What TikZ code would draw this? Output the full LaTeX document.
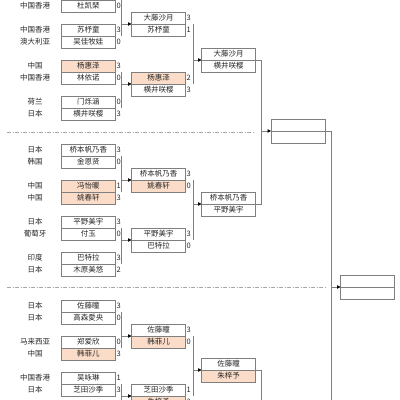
\documentclass[tikz,border=0pt]{standalone}
\usepackage{fontspec}
\setmainfont{Noto Sans CJK SC}
\usetikzlibrary{arrows.meta,calc}
\definecolor{lg}{HTML}{7F7F7F}
\definecolor{sepc}{HTML}{A6A6A6}
\definecolor{peach}{HTML}{FBDCC8}
\definecolor{txt}{HTML}{262626}
\tikzset{
 cell/.style={draw=lg,line width=0.7pt,minimum width=54pt,minimum height=12pt,inner sep=0pt,outer sep=0pt,font=\fontsize{7.5}{8}\selectfont,text=txt},
 winc/.style={cell,fill=peach},
 ctry/.style={inner sep=0pt,font=\fontsize{7.5}{8}\selectfont,text=txt},
 scr/.style={anchor=west,inner sep=0pt,font=\fontsize{7.5}{8}\selectfont,text=txt},
 conn/.style={draw=lg,line width=0.7pt},
 arr/.style={conn,-{Triangle[length=3.5pt,width=3.5pt,color=black]}},
 sepline/.style={draw=sepc,line width=0.7pt,dash pattern=on 4pt off 1.5pt on 1pt off 1.5pt}
}
\newcommand\mkpl[5]{\node[#2] (#1) at #3 {#4};\node[scr] (#1s) at ([xshift=1pt]#1.east) {#5};}
\newcommand\mkct[3]{\node[ctry] (#1) at (35,#2) {#3};}
\begin{document}
\begin{tikzpicture}[x=1pt,y=-1pt]
\useasboundingbox (0,0) rectangle (400,400);
\clip (0,0) rectangle (400,400);
% ---------- group 1, round 1
\mkct{c1}{6}{中国香港}\mkpl{a1}{cell}{(88.5,6)}{杜凯琹}{0}
\mkct{c2}{30}{中国香港}\mkpl{a2}{cell}{(88.5,30)}{苏杼童}{3}
\mkct{c3}{42}{澳大利亚}\mkpl{a3}{cell}{(88.5,42)}{吴佳牧娃}{0}
\mkct{c4}{66}{中国}\mkpl{a4}{winc}{(88.5,66)}{杨惠泽}{3}
\mkct{c5}{78}{中国香港}\mkpl{a5}{cell}{(88.5,78)}{林依诺}{0}
\mkct{c6}{102}{荷兰}\mkpl{a6}{cell}{(88.5,102)}{门烁涵}{0}
\mkct{c7}{114}{日本}\mkpl{a7}{cell}{(88.5,114)}{横井咲樱}{3}
% ---------- group 2, round 1
\mkct{c8}{150}{日本}\mkpl{a8}{cell}{(88.5,150)}{桥本帆乃香}{3}
\mkct{c9}{162}{韩国}\mkpl{a9}{cell}{(88.5,162)}{金恩贤}{0}
\mkct{c10}{186}{中国}\mkpl{a10}{winc}{(88.5,186)}{冯怡暖}{1}
\mkct{c11}{198}{中国}\mkpl{a11}{winc}{(88.5,198)}{姚春轩}{3}
\mkct{c12}{222}{日本}\mkpl{a12}{cell}{(88.5,222)}{平野美宇}{3}
\mkct{c13}{234}{葡萄牙}\mkpl{a13}{cell}{(88.5,234)}{付玉}{0}
\mkct{c14}{258}{印度}\mkpl{a14}{cell}{(88.5,258)}{巴特拉}{3}
\mkct{c15}{270}{日本}\mkpl{a15}{cell}{(88.5,270)}{木原美悠}{2}
% ---------- group 3, round 1
\mkct{c16}{306}{日本}\mkpl{a16}{cell}{(88.5,306)}{佐藤瞳}{3}
\mkct{c17}{318}{日本}\mkpl{a17}{cell}{(88.5,318)}{高森愛央}{0}
\mkct{c18}{342}{马来西亚}\mkpl{a18}{cell}{(88.5,342)}{郑爱欣}{0}
\mkct{c19}{354}{中国}\mkpl{a19}{winc}{(88.5,354)}{韩菲儿}{3}
\mkct{c20}{378}{中国香港}\mkpl{a20}{cell}{(88.5,378)}{吴咏琳}{1}
\mkct{c21}{390}{日本}\mkpl{a21}{cell}{(88.5,390)}{芝田沙季}{3}
% ---------- round 2
\mkpl{b1}{cell}{(158.5,18)}{大藤沙月}{3}
\mkpl{b2}{cell}{(158.5,30)}{苏杼童}{1}
\mkpl{b3}{winc}{(158.5,78)}{杨惠泽}{2}
\mkpl{b4}{cell}{(158.5,90)}{横井咲樱}{3}
\mkpl{b5}{cell}{(158.5,174)}{桥本帆乃香}{3}
\mkpl{b6}{winc}{(158.5,186)}{姚春轩}{0}
\mkpl{b7}{cell}{(158.5,234)}{平野美宇}{3}
\mkpl{b8}{cell}{(158.5,246)}{巴特拉}{0}
\mkpl{b9}{cell}{(158.5,330)}{佐藤瞳}{3}
\mkpl{b10}{winc}{(158.5,342)}{韩菲儿}{0}
\mkpl{b11}{cell}{(158.5,390)}{芝田沙季}{1}
\mkpl{b12}{winc}{(158.5,402)}{朱梓予}{3}
% ---------- round 3
\node[cell] (d1) at (228.5,54) {大藤沙月};
\node[cell] (d2) at (228.5,66) {横井咲樱};
\node[cell] (d3) at (228.5,198) {桥本帆乃香};
\node[cell] (d4) at (228.5,210) {平野美宇};
\node[cell] (d5) at (228.5,364) {佐藤瞳};
\node[winc] (d6) at (228.5,376) {朱梓予};
% ---------- round 4 and final (empty)
\node[cell] (e1) at (298,125) {};
\node[cell] (e2) at (298,137) {};
\node[cell] (f1) at (367.5,281) {};
\node[cell] (f2) at (367.5,293) {};
% ---------- separators
\coordinate (s1a) at (7,132); \coordinate (s1b) at (253,132);
\coordinate (s2a) at (7,287); \coordinate (s2b) at (325,287);
\draw[sepline] (s1a) -- (s1b);
\draw[sepline] (s2a) -- (s2b);
% ---------- round 1 -> round 2
\coordinate (j1) at (121,0);   \coordinate (j2) at (121,36);
\coordinate (j3) at (121,72);  \coordinate (j4) at (121,108);
\coordinate (j5) at (121,156); \coordinate (j6) at (121,192);
\coordinate (j7) at (121,228); \coordinate (j8) at (121,264);
\coordinate (j9) at (121,312); \coordinate (j10) at (121,348);
\coordinate (j11) at (121,384); \coordinate (j12) at (121,420);
\draw[conn] (j1) -- (j2);  \draw[arr] (j1 |- b1.south west) -- (b1.south west);
\draw[conn] (j3) -- (j4);  \draw[arr] (j3 |- b3.south west) -- (b3.south west);
\draw[conn] (j5) -- (j6);  \draw[arr] (j5 |- b5.south west) -- (b5.south west);
\draw[conn] (j7) -- (j8);  \draw[arr] (j7 |- b7.south west) -- (b7.south west);
\draw[conn] (j9) -- (j10); \draw[arr] (j9 |- b9.south west) -- (b9.south west);
\draw[conn] (j11) -- (j12); \draw[arr] (j11 |- b11.south west) -- (b11.south west);
% ---------- round 2 -> round 3
\coordinate (k1) at (193,24);  \coordinate (k2) at (193,84);
\coordinate (k3) at (193,180); \coordinate (k4) at (193,240);
\coordinate (k5) at (193,336); \coordinate (k6) at (193,396);
\draw[conn] (k1) -- (k2); \draw[arr] (k1 |- d1.south west) -- (d1.south west);
\draw[conn] (k3) -- (k4); \draw[arr] (k3 |- d3.south west) -- (d3.south west);
\draw[conn] (k5) -- (k6); \draw[arr] (k5 |- d5.south west) -- (d5.south west);
% ---------- round 3 -> round 4
\coordinate (m1) at (261,60); \coordinate (m2) at (261,204);
\coordinate (m3) at (261,370); \coordinate (m4) at (261,410);
\draw[conn] (d1.south east) -- (m1) -- (m2) -- (d3.south east);
\draw[arr] (m1 |- e1.south west) -- (e1.south west);
\draw[conn] (d5.south east) -- (m3) -- (m4);
% ---------- round 4 -> final
\coordinate (n1) at (331,131); \coordinate (n2) at (331,410);
\draw[conn] (e1.south east) -- (n1) -- (n2);
\draw[arr] (n1 |- f1.south west) -- (f1.south west);
\end{tikzpicture}
\end{document}
